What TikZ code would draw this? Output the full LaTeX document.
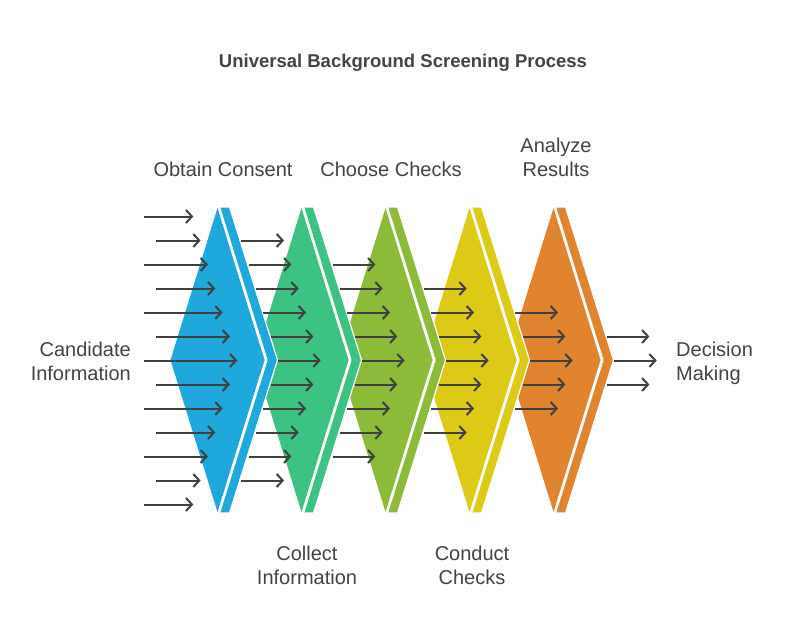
\documentclass[tikz,border=0pt]{standalone}
\usepackage{fontspec}
\setmainfont{Liberation Sans}
\usetikzlibrary{arrows.meta}
\definecolor{cblue}{HTML}{1EA8DC}
\definecolor{cgreen}{HTML}{3CC282}
\definecolor{colive}{HTML}{8CBB3A}
\definecolor{cyellow}{HTML}{DDCA17}
\definecolor{corange}{HTML}{E0842F}
\definecolor{ctext}{HTML}{434343}
\definecolor{carrow}{HTML}{404040}
\begin{document}
\begin{tikzpicture}[x=1pt,y=-1pt,
  arr/.style={draw=carrow,line width=2pt,-{Straight Barb[length=6pt,width=13pt]}},
  band/.style={draw=white,line width=1.2pt,line join=miter},
  lbl/.style={text=ctext,font=\fontsize{20}{24}\selectfont,align=center,inner sep=0pt},
  ttl/.style={text=ctext,font=\bfseries\fontsize{18.5}{22}\selectfont,inner sep=0pt}]
\useasboundingbox[fill=white] (0,0) rectangle (794,639);

% chevrons, last first so each earlier one lies on top
\foreach \k/\c in {5/corange,4/cyellow,3/colive,2/cgreen,1/cblue}{
  \pgfmathsetmacro{\T}{217.5+84*(\k-1)}
  \fill[white] (\T,207) -- (\T+12,207) -- (\T+60,360) -- (\T+12,513)
     -- (\T,513) -- (\T+47,360) -- cycle;
  \fill[\c] (\T,208) -- (\T+47,360) -- (\T,512) -- (\T-47,360) -- cycle;
  \fill[\c,band] (\T+2,207) -- (\T+12,207) -- (\T+60,360) -- (\T+12,513)
     -- (\T+2,513) -- (\T+49.5,360) -- cycle;
}

% first group of arrows
\foreach \i in {0,...,12}{
  \pgfmathsetmacro{\y}{216.5+24*\i}
  \pgfmathsetmacro{\sx}{144+12*mod(\i,2)}
  \pgfmathsetmacro{\ex}{237.3-7.33*abs(\i-6)}
  \coordinate (a1s\i) at (\sx,\y);
  \coordinate (a1e\i) at (\ex,\y);
  \draw[arr] (a1s\i) -- (a1e\i);
}
% following groups
\foreach \k in {2,...,6}{
  \pgfmathtruncatemacro{\m}{7-\k}
  \foreach \j in {-\m,...,\m}{
    \pgfmathsetmacro{\y}{360.5+24*\j}
    \pgfmathsetmacro{\sx}{278+84*(\k-2)-7.33*abs(\j)}
    \pgfmathsetmacro{\ex}{\sx+42.7}
    \coordinate (a\k s\j) at (\sx,\y);
    \coordinate (a\k e\j) at (\ex,\y);
    \draw[arr] (a\k s\j) -- (a\k e\j);
  }
}

\node[ttl] (title) at (403,63) {Universal Background Screening Process};
\node[lbl] (obtain) at (223,169.5) {Obtain Consent};
\node[lbl] (choose) at (391,169.5) {Choose Checks};
\node[lbl] (analyze) at (556,157.5) {Analyze\\Results};
\node[lbl] (collect) at (307,565) {Collect\\Information};
\node[lbl] (conduct) at (472,565) {Conduct\\Checks};
\node[lbl,anchor=east,align=right] (cand) at (131,361.5) {Candidate\\Information};
\node[lbl,anchor=west,align=left] (decision) at (676,363.5) {Decision\\Making};
\end{tikzpicture}
\end{document}
